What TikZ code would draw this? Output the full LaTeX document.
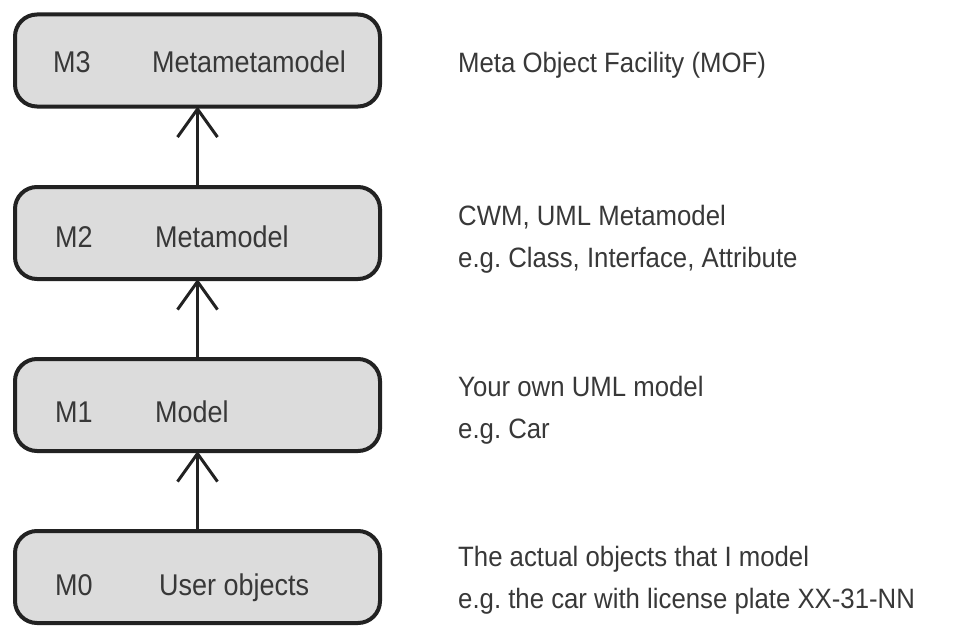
\documentclass[tikz,border=0pt]{standalone}
\usepackage{fontspec}
\setmainfont{Liberation Sans}
\newfontfamily\boxfont[FakeStretch=0.9]{Liberation Sans}
\newfontfamily\notefont[FakeStretch=0.92]{Liberation Sans}
\usetikzlibrary{arrows.meta}
\frenchspacing
\definecolor{inkline}{HTML}{222222}
\definecolor{inktext}{HTML}{383838}
\definecolor{boxfill}{HTML}{DCDCDC}
\tikzset{
  layerbox/.style={draw=inkline, line width=4pt, fill=boxfill, rounded corners=22pt,
    minimum width=365pt, minimum height=92pt, inner sep=0pt, outer sep=0pt},
  boxtext/.style={anchor=base west, inner sep=0pt, text=inktext,
    font=\boxfont\fontsize{30}{30}\selectfont},
  notetext/.style={anchor=base west, inner sep=0pt, text=inktext, align=left,
    font=\notefont\fontsize{28}{42}\selectfont},
  instanceof/.style={draw=inkline, line width=3pt,
    -{Straight Barb[length=28pt, width=40pt, line width=3pt]}}
}
\begin{document}
\begin{tikzpicture}[x=1pt, y=-1pt]
  \useasboundingbox (0,0) rectangle (960,626);

  % layer boxes
  \node[layerbox] (m3) at (197.5,60.5) {};
  \node[layerbox] (m2) at (197.5,233) {};
  \node[layerbox] (m1) at (197.5,405) {};
  \node[layerbox] (m0) at (197.5,577) {};

  % level numbers and names
  \node[boxtext] (m3n) at (53,73) {M3};
  \node[boxtext] (m3t) at (152,73) {Metametamodel};
  \node[boxtext] (m2n) at (55,247) {M2};
  \node[boxtext] (m2t) at (155,247) {Metamodel};
  \node[boxtext] (m1n) at (55,422) {M1};
  \node[boxtext] (m1t) at (155,422) {Model};
  \node[boxtext] (m0n) at (55,595) {M0};
  \node[boxtext] (m0t) at (159,595) {User objects};

  % descriptions (placed by the baseline of their last line)
  \node[notetext] (d3) at (458,73) {Meta Object Facility (MOF)};
  \node[notetext] (d2) at (458,267) {CWM, UML Metamodel\\e.g. Class, Interface, Attribute};
  \node[notetext] (d1) at (458,438) {Your own UML model\\e.g. Car};
  \node[notetext] (d0) at (458,608) {The actual objects that I model\\e.g. the car with license plate XX-31-NN};

  % instance-of arrows
  \draw[instanceof] (m2.north) -- (m3.south);
  \draw[instanceof] (m1.north) -- (m2.south);
  \draw[instanceof] (m0.north) -- (m1.south);
\end{tikzpicture}
\end{document}
